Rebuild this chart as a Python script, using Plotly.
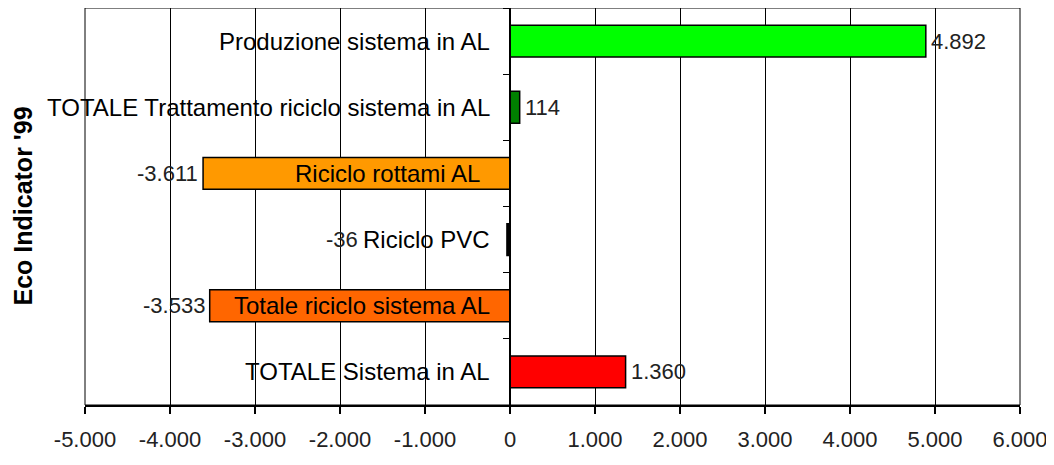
import plotly.graph_objects as go

categories = [
    "Produzione sistema in AL",
    "TOTALE Trattamento riciclo sistema in AL",
    "Riciclo rottami AL",
    "Riciclo PVC",
    "Totale riciclo sistema AL",
    "TOTALE Sistema in AL",
]
values = [4892, 114, -3611, -36, -3533, 1360]
colors = ["#00FF00", "#008000", "#FF9900", "#000000", "#FF6600", "#FF0000"]
x_ticks = [-5000, -4000, -3000, -2000, -1000, 0, 1000, 2000, 3000, 4000, 5000, 6000]
y_title = "Eco Indicator '99"

FONT = "Liberation Sans, Arial, sans-serif"


def fmt(v):
    s = f"{abs(v):,}".replace(",", ".")
    return ("-" if v < 0 else "") + s


fig = go.Figure()
fig.add_trace(go.Bar(
    y=categories,
    x=values,
    orientation="h",
    marker=dict(color=colors, line=dict(color="black", width=1.5)),
    hoverinfo="skip",
))

annotations = []
for cat, v in zip(categories, values):
    # category label, right-aligned just left of zero
    shift = -28 if cat == "Riciclo rottami AL" else -18
    annotations.append(dict(
        x=0, y=cat, xref="x", yref="y", text=cat, showarrow=False,
        xanchor="right", xshift=shift,
        font=dict(family=FONT, size=24, color="black"),
    ))
    # value label
    if cat == "Riciclo PVC":
        annotations.append(dict(
            x=0, y=cat, xref="x", yref="y", text=fmt(v), showarrow=False,
            xanchor="right", xshift=-150, font=dict(family=FONT, size=22, color="#222222"),
        ))
    elif v >= 0:
        annotations.append(dict(
            x=v, y=cat, xref="x", yref="y", text=fmt(v), showarrow=False,
            xanchor="left", xshift=3, font=dict(family=FONT, size=22, color="#222222"),
        ))
    else:
        annotations.append(dict(
            x=v, y=cat, xref="x", yref="y", text=fmt(v), showarrow=False,
            xanchor="right", xshift=-3, font=dict(family=FONT, size=22, color="#222222"),
        ))

annotations.append(dict(
    x=0, y=0.5, xref="paper", yref="paper", xanchor="center", yanchor="middle",
    xshift=-63, text=f"<b>{y_title}</b>", textangle=-90, showarrow=False,
    font=dict(family=FONT, size=25, color="black"),
))

fig.update_layout(
    width=1054, height=465,
    margin=dict(l=77, r=42, t=0, b=68, autoexpand=False),
    paper_bgcolor="white", plot_bgcolor="white",
    showlegend=False,
    bargap=0.52,
    annotations=annotations,
    shapes=[dict(type="rect", xref="paper", yref="paper", x0=0, y0=0, x1=1, y1=1,
                 line=dict(color="black", width=1), layer="above")],
    xaxis=dict(
        range=[-5000, 6000], tickvals=x_ticks, ticktext=[fmt(t) for t in x_ticks],
        showgrid=True, gridcolor="black", gridwidth=1, zeroline=False,
        showline=True, linecolor="black", linewidth=2,
        ticks="outside", ticklen=7, tickwidth=2, tickcolor="black",
        ticklabelstandoff=7,
        tickfont=dict(family=FONT, size=22, color="#222222"),
        fixedrange=True, automargin=False,
    ),
    yaxis=dict(
        autorange="reversed", showticklabels=False,
        anchor="free", position=5 / 11,
        showline=True, linecolor="black", linewidth=2,
        ticks="outside", ticklen=6, tickwidth=1, tickcolor="black",
        tickson="boundaries", showgrid=False, zeroline=False,
        fixedrange=True, automargin=False,
    ),
)

fig.write_html("out.html")
